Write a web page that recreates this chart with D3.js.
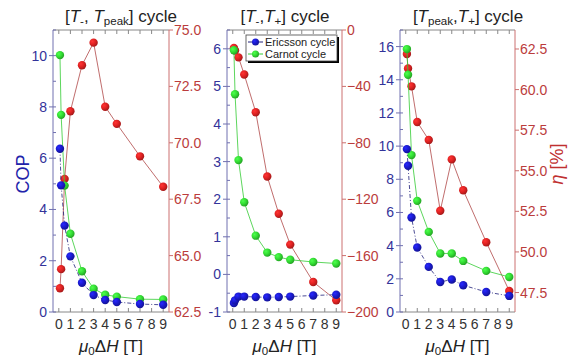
<!DOCTYPE html>
<html>
<head>
<meta charset="utf-8">
<script src="https://cdn.jsdelivr.net/npm/d3@7"></script>
<style>
  body { margin: 0; background: #fff; }
  text { font-family: "Liberation Sans", Arial, sans-serif; }
</style>
</head>
<body>
<div id="chart"></div>
<script>
// magnetic field steps (T)
const fields = [0.1, 0.2, 0.5, 1, 2, 3, 4, 5, 7, 9];
const xTicks = [0, 1, 2, 3, 4, 5, 6, 7, 8, 9];

// [T-, Tpeak] cycle
const ericssonA = [6.37, 4.94, 3.37, 2.17, 1.14, 0.66, 0.47, 0.39, 0.31, 0.28];
const carnotA = [10.02, 7.69, 4.93, 3.05, 1.59, 0.91, 0.67, 0.60, 0.50, 0.49];
const etaA = [63.55, 64.4, 68.4, 71.4, 73.44, 74.44, 71.6, 70.84, 69.4, 68.05];

// [T-, T+] cycle
const ericssonB = [-0.76, -0.69, -0.59, -0.59, -0.60, -0.61, -0.60, -0.59, -0.56, -0.54];
const carnotB = [5.96, 4.79, 3.04, 1.92, 1.03, 0.58, 0.46, 0.39, 0.33, 0.29];
const etaB = [-12.7, -14.6, -19.4, -31.6, -58.3, -103.9, -130.3, -152.2, -178.7, -191.7];

// [Tpeak, T+] cycle
const ericssonC = [9.82, 8.82, 5.70, 3.89, 2.72, 1.81, 1.96, 1.61, 1.21, 0.97];
const carnotC = [15.85, 14.3, 9.46, 6.70, 4.83, 3.53, 3.53, 3.08, 2.48, 2.11];
const etaC = [62.19, 61.3, 60.2, 58.0, 56.9, 52.54, 55.7, 53.8, 50.6, 47.6];

const W = 573, H = 363;
const plotTop = 30, plotBottom = 312;
const blue = "#1a1acc", green = "#33dd33", red = "#e02222";
const leftCol = "#33339a", rightCol = "#bb3c3c";

const svg = d3.select("#chart").append("svg")
    .attr("width", W).attr("height", H);

// shaded ball markers
const defs = svg.append("defs");
[["b", blue], ["g", green], ["r", red]].forEach(([id, c]) => {
    const grad = defs.append("radialGradient").attr("id", "ball-" + id)
        .attr("cx", "35%").attr("cy", "35%").attr("r", "65%");
    grad.append("stop").attr("offset", "0%").attr("stop-color", d3.color(c).brighter(1.2));
    grad.append("stop").attr("offset", "55%").attr("stop-color", c);
    grad.append("stop").attr("offset", "100%").attr("stop-color", d3.color(c).darker(0.8));
});

const panels = [
    {x0: 53, x1: 169, title: [["[", ""], ["T", "i"], ["-", "sub"], [", ", ""], ["T", "i"], ["peak", "sub"], ["] cycle", ""]],
     titleX: 121, ericsson: ericssonA, carnot: carnotA, eta: etaA,
     yDom: [0, 11], yTicks: [0, 2, 4, 6, 8, 10], yMinor: 1,
     rDom: [62.5, 75], rTicks: [62.5, 65, 67.5, 70, 72.5, 75], rFmt: d3.format(".1f"),
     yLabel: "COP"},
    {x0: 227, x1: 342, title: [["[", ""], ["T", "i"], ["-", "sub"], [",", ""], ["T", "i"], ["+", "sub"], ["] cycle", ""]],
     titleX: 285, ericsson: ericssonB, carnot: carnotB, eta: etaB,
     yDom: [-1, 6.5], yTicks: [-1, 0, 1, 2, 3, 4, 5, 6], yMinor: 0.5,
     rDom: [-200, 0], rTicks: [-200, -160, -120, -80, -40, 0], rFmt: d3.format("d"),
     legend: true},
    {x0: 400, x1: 515, title: [["[", ""], ["T", "i"], ["peak", "sub"], [",", ""], ["T", "i"], ["+", "sub"], ["] cycle", ""]],
     titleX: 468, ericsson: ericssonC, carnot: carnotC, eta: etaC,
     yDom: [0, 17], yTicks: [0, 2, 4, 6, 8, 10, 12, 14, 16], yMinor: 1,
     rDom: [46.3, 63.67], rTicks: [47.5, 50, 52.5, 55, 57.5, 60, 62.5], rFmt: d3.format(".1f"),
     rLabel: true}
];

function richText(sel, parts, size) {
    parts.forEach(([s, kind]) => {
        const t = sel.append("tspan").text(s);
        if (kind === "i") t.attr("font-style", "italic");
        if (kind === "sub") t.attr("font-size", size * 0.68).attr("baseline-shift", "-25%");
    });
}

panels.forEach(p => {
    const x = d3.scaleLinear().domain([-0.5, 9.5]).range([p.x0, p.x1]);
    const y = d3.scaleLinear().domain(p.yDom).range([plotBottom, plotTop]);
    const yr = d3.scaleLinear().domain(p.rDom).range([plotBottom, plotTop]);
    const g = svg.append("g");

    // frame top/bottom
    g.append("line").attr("x1", p.x0).attr("x2", p.x1).attr("y1", plotTop).attr("y2", plotTop)
        .attr("stroke", "#888").attr("stroke-width", 1);
    g.append("line").attr("x1", p.x0).attr("x2", p.x1).attr("y1", plotBottom).attr("y2", plotBottom)
        .attr("stroke", "#888").attr("stroke-width", 1);

    // x ticks, inward on top and bottom
    xTicks.forEach(t => {
        g.append("line").attr("x1", x(t)).attr("x2", x(t)).attr("y1", plotBottom).attr("y2", plotBottom - 4)
            .attr("stroke", "#888");
        g.append("line").attr("x1", x(t)).attr("x2", x(t)).attr("y1", plotTop).attr("y2", plotTop + 4)
            .attr("stroke", "#888");
        g.append("text").attr("x", x(t)).attr("y", 329).attr("text-anchor", "middle")
            .attr("font-size", 14).attr("fill", "#333").text(t);
    });

    // left axis
    g.append("line").attr("x1", p.x0).attr("x2", p.x0).attr("y1", plotTop).attr("y2", plotBottom)
        .attr("stroke", "#7070b0");
    d3.range(p.yDom[0], p.yDom[1] + 0.001, p.yMinor).forEach(t => {
        g.append("line").attr("x1", p.x0).attr("x2", p.x0 + 3).attr("y1", y(t)).attr("y2", y(t))
            .attr("stroke", "#7070b0");
    });
    p.yTicks.forEach(t => {
        g.append("line").attr("x1", p.x0 - 4).attr("x2", p.x0).attr("y1", y(t)).attr("y2", y(t))
            .attr("stroke", "#7070b0");
        g.append("text").attr("x", p.x0 - 6).attr("y", y(t) + 5).attr("text-anchor", "end")
            .attr("font-size", 14).attr("fill", leftCol).text(t);
    });

    // right axis
    g.append("line").attr("x1", p.x1).attr("x2", p.x1).attr("y1", plotTop).attr("y2", plotBottom)
        .attr("stroke", "#cc7070");
    p.rTicks.forEach(t => {
        g.append("line").attr("x1", p.x1).attr("x2", p.x1 + 4).attr("y1", yr(t)).attr("y2", yr(t))
            .attr("stroke", "#cc7070");
        g.append("text").attr("x", p.x1 + 5).attr("y", yr(t) + 5)
            .attr("font-size", 14).attr("fill", rightCol).text(p.rFmt(t));
    });

    // title
    const title = g.append("text").attr("x", p.titleX).attr("y", 22).attr("text-anchor", "middle")
        .attr("font-size", 17).attr("fill", "#222");
    richText(title, p.title, 17);

    // x label
    const xl = g.append("text").attr("x", (p.x0 + p.x1) / 2).attr("y", 352).attr("text-anchor", "middle")
        .attr("font-size", 17).attr("fill", "#222");
    richText(xl, [["μ", "i"], ["0", "sub"], ["Δ", ""], ["H", "i"], [" [T]", ""]], 17);

    // series
    const series = [
        {vals: p.eta, sc: yr, line: "#b04848", dash: null, ball: "r"},
        {vals: p.carnot, sc: y, line: "#33cc33", dash: null, ball: "g"},
        {vals: p.ericsson, sc: y, line: "#20207a", dash: "4,2,1,2", ball: "b"}
    ];
    series.forEach(s => {
        const pts = fields.map((f, i) => [x(f), s.sc(s.vals[i])]);
        g.append("path").attr("d", d3.line()(pts)).attr("fill", "none")
            .attr("stroke", s.line).attr("stroke-width", 0.8)
            .attr("stroke-dasharray", s.dash);
        g.selectAll(null).data(pts).join("circle")
            .attr("cx", d => d[0]).attr("cy", d => d[1]).attr("r", 4.2)
            .attr("fill", "url(#ball-" + s.ball + ")");
    });

    if (p.yLabel) {
        svg.append("text").attr("transform", "translate(29,174) rotate(-90)")
            .attr("text-anchor", "middle").attr("font-size", 18).attr("fill", "#2222aa").text(p.yLabel);
    }
    if (p.rLabel) {
        const rl = svg.append("text").attr("transform", "translate(563,164) rotate(-90)")
            .attr("text-anchor", "middle").attr("font-size", 18).attr("fill", "#c03030");
        richText(rl, [["η", "i"], [" [%]", ""]], 18);
    }

    if (p.legend) {
        const lx = 246, ly = 35, lw = 91, lh = 26;
        g.append("rect").attr("x", lx + 2).attr("y", ly + 2).attr("width", lw).attr("height", lh).attr("fill", "#000");
        g.append("rect").attr("x", lx).attr("y", ly).attr("width", lw).attr("height", lh)
            .attr("fill", "#fff").attr("stroke", "#444").attr("stroke-width", 0.8);
        [["Ericsson cycle", "#20207a", "b", 42], ["Carnot cycle", "#33cc33", "g", 54]].forEach(([lab, c, b, yy]) => {
            g.append("line").attr("x1", lx + 2).attr("x2", lx + 17).attr("y1", yy).attr("y2", yy)
                .attr("stroke", c).attr("stroke-width", 1);
            g.append("circle").attr("cx", lx + 9.5).attr("cy", yy).attr("r", 3.5).attr("fill", "url(#ball-" + b + ")");
            g.append("text").attr("x", lx + 19).attr("y", yy + 4).attr("font-size", 11)
                .attr("fill", "#222").text(lab);
        });
    }
});
</script>
</body>
</html>
